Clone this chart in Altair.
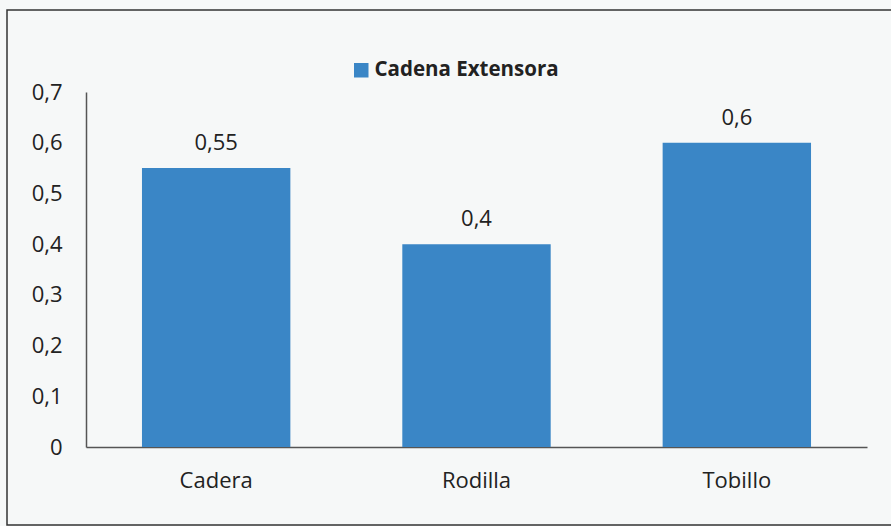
import altair as alt
import pandas as pd

categories = ["Cadera", "Rodilla", "Tobillo"]
values = [0.55, 0.4, 0.6]
labels = ["0,55", "0,4", "0,6"]
series = "Cadena Extensora"

df = pd.DataFrame({"cat": categories, "val": values, "lab": labels, "serie": [series] * 3})

FONT = "Open Sans"
BLUE = "#3a86c6"
FS = 22

base = alt.Chart(df)

bars = base.mark_bar(color=BLUE).encode(
    x=alt.X("cat:N", sort=categories, title=None,
            scale=alt.Scale(paddingInner=0.43, paddingOuter=0.215),
            axis=alt.Axis(labelAngle=0, ticks=False, labelPadding=23, labelFontSize=FS,
                          labelFont=FONT, labelColor="#222", domainColor="#555", domainWidth=1.5)),
    y=alt.Y("val:Q", title=None,
            scale=alt.Scale(domain=[0, 0.7]),
            axis=alt.Axis(values=[0, 0.1, 0.2, 0.3, 0.4, 0.5, 0.6, 0.7], grid=False, ticks=False,
                          labelPadding=24, labelFontSize=FS, labelFont=FONT, labelColor="#222",
                          domainColor="#555", domainWidth=1.5,
                          labelExpr="datum.value == 0 ? '0' : replace(format(datum.value, '.1f'), '.', ',')")),
    fill=alt.Fill("serie:N", scale=alt.Scale(range=[BLUE]),
                  legend=alt.Legend(title=None, orient="none", legendX=265, legendY=-32,
                                    symbolType="square", symbolSize=210, symbolStrokeWidth=0,
                                    labelFont=FONT, labelFontSize=20.5, labelFontWeight="bold",
                                    labelColor="#222", labelOffset=3, labelLimit=500)),
)

text = base.mark_text(dy=-25, fontSize=FS, font=FONT, color="#222").encode(
    x=alt.X("cat:N", sort=categories),
    y="val:Q",
    text="lab:N",
)

frame = alt.Chart(pd.DataFrame({"a": [0]})).mark_rect(
    fill=None, stroke="#333", strokeWidth=1.5
).encode(x=alt.value(-79), x2=alt.value(830), y=alt.value(-82), y2=alt.value(433))

chart = alt.layer(bars, text, frame).properties(
    width=781, height=355,
    autosize=alt.AutoSizeParams(type="none"),
    padding={"left": 86, "top": 92, "right": 24, "bottom": 79},
    background="#f6f8f8",
).configure_view(stroke=None)

chart.save("out.html", embed_options={"renderer": "svg", "actions": False})
